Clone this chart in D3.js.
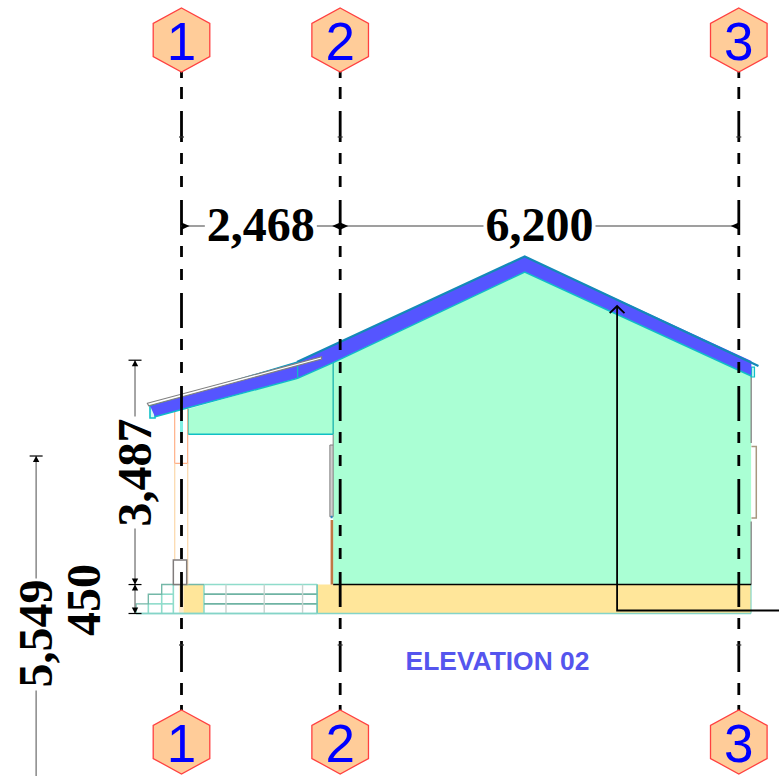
<!DOCTYPE html>
<html>
<head>
<meta charset="utf-8">
<script src="https://cdn.jsdelivr.net/npm/d3@7/dist/d3.min.js"></script>
<style>html,body{margin:0;padding:0;background:#fff}svg{display:block}</style>
</head>
<body>
<svg id="c" width="779" height="776"></svg>
<script>
// All drawing values are in millimetres on the elevation.
const gridLabels = ["1", "2", "3"];
const gridStations = [0, 2468, 8668];
const spanValues = [2468, 6200];
const levelValues = [0, 450, 3937, 5549];
const title = "ELEVATION 02";

const roofBand = [[-490,3229],[1795,3908],[5338,5549],[8865,3925],[8861,3691],[5338,5307],[2359,3900],[1806,3655],[-412,3058]];
const roofTopEdge = [[1795,3908],[5338,5549],[8974,3846]];
const roofUnderEdge = [[-412,3058],[1806,3655],[2359,3900],[5338,5307],[8861,3691]];
const leanBottomEdge = [[106,2785],[2359,2785]];
const mainWall = [[5338,5307],[8861,3691],[8861,450],[2359,450],[2359,3900]];
const leanWall = [[106,3179],[1806,3655],[2359,3900],[2359,2785],[106,2785]];
const flashing = [[-531,3267],[2179,3991],[2179,3955],[-510,3229]];
const fasciaL = [[-490,3229],[-412,3229],[-412,3039],[-490,3039]];
const fasciaR = [[8865,3831],[8912,3831],[8912,3676],[8865,3676]];
const columnHead = [[-106,3195],[96,3195],[96,2334],[-106,2334]];
const columnBase = [[-127,831],[81,831],[81,450],[-127,450]];
const columnCut = [[-23,3007],[23,3007],[23,2820],[-23,2820]];
const plinthA = [[28,0],[350,0],[350,450],[28,450]];
const plinthB = [[2110,0],[8858,0],[8858,450],[2110,450]];
const plinthStrip = [[-40,0],[28,0],[28,450],[-40,450]];
const doorGrey = [[2308,2619],[2359,2619],[2359,1504],[2308,1504]];
const doorBrown = [[2339,1453],[2339,450]];
const wallRightA = [[8861,3691],[8861,2650]];
const wallRightB = [[8861,1430],[8861,450]];
const windowRight = [[8865,2597],[8940,2597],[8940,1484],[8865,1484]];
const stairOutline = [[-707,0],[-707,150],[-516,150],[-516,300],[-308,300],[-308,450],[350,450]];
const stairLight = [[[-707,0],[2110,0]],[[-516,0],[-516,150]],[[-308,0],[-308,300]],[[-127,0],[-127,450]],[[-516,150],[-127,150]],[[-308,300],[-127,300]],[[2110,0],[2110,450]],[[350,0],[350,450]],[[350,450],[2110,450]]];
const stairDark = [[[350,150],[2110,150]],[[350,300],[2110,300]]];
const stairPosts = [692, 1287, 1883];
const groundLine = [[2359,450],[8861,450]];
const leader = [[6775,4778],[6775,47],[9300,47]];

const px = d3.scaleLinear().domain([0, 8668]).range([181.5, 738.8]);
const py = d3.scaleLinear().domain([0, 5549]).range([613.5, 256.5]);
const svg = d3.select("#c");
const path = d3.line().x(d => px(d[0])).y(d => py(d[1]));
const closed = d => path(d) + "Z";

function poly(d, fill, stroke, w) {
  svg.append("path").attr("d", closed(d)).attr("fill", fill)
    .attr("stroke", stroke || "none").attr("stroke-width", w || 0);
}
function line(d, stroke, w) {
  svg.append("path").attr("d", path(d)).attr("fill", "none")
    .attr("stroke", stroke).attr("stroke-width", w);
}

// walls and plinth
poly(mainWall, "#aaffd4");
poly(leanWall, "#aaffd4");
poly(plinthA, "#ffe69a");
poly(plinthB, "#ffe69a");
poly(plinthStrip, "#fdeccd");

// stairs
stairLight.forEach(s => line(s, "#8fdccb", 1.6));
line(stairOutline, "#74b8a8", 1.4);
stairDark.forEach(s => line(s, "#6fb3a3", 1.8));
stairPosts.forEach(x => line([[x,0],[x,450]], "#c8d4d0", 1.4));
line([[2110,0],[2110,450]], "#74c4b0", 1.4);
line([[-707,0],[8858,0]], "#84d4c8", 1.6);
line([[8858,0],[8858,450]], "#84d4c8", 1.2);

// column
poly(columnHead, "none", "#ffb088", 1.2);
[-106, 96].forEach(x => line([[x,2334],[x,450]], "#fbdcb4", 1.4));
poly(columnCut, "#7fefe4");
poly(columnBase, "#fff", "#807c7c", 1.5);

// lean-to and door side
line(leanBottomEdge, "#10c0c4", 1.6);
line([[2359,3900],[2359,2785]], "#22b8b0", 1.4);
line([[106,3179],[106,2785]], "#22b8b0", 0.8);
poly(doorGrey, "#cfcfcf", "#808080", 1);
line([[2359,2785],[2359,2619]], "#808080", 1);
line(doorBrown, "#c07844", 2.6);
line([[2320,1500],[2350,1500]], "#2a8ac0", 2.5);

// right wall
line(wallRightA, "#8a8a8a", 1.4);
line(wallRightB, "#8a8a8a", 1.4);
svg.append("path").attr("d", path([windowRight[0], windowRight[1], windowRight[2], windowRight[3]]))
  .attr("fill", "#fff").attr("stroke", "#a89880").attr("stroke-width", 1.5);

// roof
poly(fasciaL, "#d4faf4", "#10c0c8", 1.6);
poly(fasciaR, "#c4f8f0", "#10c0c8", 1.2);
poly(roofBand, "#5555ff");
line(roofUnderEdge, "#10bcc8", 1.5);
line(roofBand.slice(0, 2), "#10a0c0", 1.2);
line(roofTopEdge, "#1489b8", 2.2);
line([[1806,3660],[1806,3908]], "#10bcc8", 1.3);
poly(flashing, "#fff", "#808080", 1.1);
line(groundLine, "#000", 1.4);

// leader arrow
line(leader, "#000", 1.8);
line([[6775 - 115, 4778 - 110],[6775,4778],[6775 + 115, 4778 - 110]], "#000", 1.8);

// grid lines (two leader stubs and the main run, each with its own dashing)
gridStations.forEach(g => {
  const x = px(g);
  const seg = (y0, y1, dash, off) => svg.append("line")
    .attr("x1", x).attr("x2", x).attr("y1", y0).attr("y2", y1)
    .attr("stroke", "#000").attr("stroke-width", 2.8)
    .attr("stroke-dasharray", dash).attr("stroke-dashoffset", off || 0);
  seg(72, 137, "6 9 12 12 26");
  seg(137, 645, "35 11 11 12 11 13", 30);
  seg(645, 718, "27 11 12 10 13");
  [137, 645].forEach(y => svg.append("line").attr("x1", x - 2.5).attr("x2", x + 2.5)
    .attr("y1", y).attr("y2", y).attr("stroke", "#333").attr("stroke-width", 1.2));
});

// dimensions
const DIM = "#808080", serif = "'Liberation Serif', serif";
function label(t, x, y, rot) {
  svg.append("text").attr("transform", `translate(${x},${y}) rotate(${rot})`)
    .attr("text-anchor", "middle").attr("font-family", serif).attr("font-weight", 700)
    .attr("font-size", 48).attr("fill", "#000").text(t);
}
const dimY = py(6022);
spanValues.forEach((v, i) => {
  const a = px(gridStations[i]), b = px(gridStations[i + 1]), m = (a + b) / 2, gap = 56;
  svg.append("path").attr("d", `M${a},${dimY}H${m - gap}M${m + gap},${dimY}H${b}`)
    .attr("stroke", DIM).attr("stroke-width", 1.4).attr("fill", "none");
  label(d3.format(",")(v), m, dimY + 15, 0);
});
gridStations.forEach((g, i) => {
  const x = px(g);
  const dirs = i === 0 ? [1] : i === 2 ? [-1] : [-1, 1];
  dirs.forEach(s => svg.append("path")
    .attr("d", `M${x},${dimY - 3.6}L${x + s * 8},${dimY}L${x},${dimY + 3.6}Z`).attr("fill", "#000"));
});

function vDim(xMm, lo, hi, gapHalf) {
  const x = px(xMm), a = py(hi), b = py(lo), m = (a + b) / 2;
  svg.append("path").attr("d", gapHalf
      ? `M${x},${a}V${m - gapHalf}M${x},${m + gapHalf}V${b}` : `M${x},${a}V${b}`)
    .attr("stroke", DIM).attr("stroke-width", 1.4).attr("fill", "none");
  return m;
}
function vTick(xMm, lvl, up, down) {
  const x = px(xMm), y = py(lvl);
  svg.append("line").attr("x1", x - 6.5).attr("x2", x + 6.5).attr("y1", y).attr("y2", y)
    .attr("stroke", "#000").attr("stroke-width", 1.2);
  if (up) svg.append("path").attr("d", `M${x - 3.2},${y - 6}L${x},${y}L${x + 3.2},${y - 6}Z`).attr("fill", "#000");
  if (down) svg.append("path").attr("d", `M${x - 3.2},${y + 6}L${x},${y}L${x + 3.2},${y + 6}Z`).attr("fill", "#000");
}
const xInner = -723, xOuter = -2261;
vDim(xInner, levelValues[0], levelValues[1]);
const m3487 = vDim(xInner, levelValues[1], levelValues[2], 56);
vTick(xInner, levelValues[0], true, false);
vTick(xInner, levelValues[1], true, true);
vTick(xInner, levelValues[2], false, true);
label("3,487", 151, m3487, -90);
label("450", 99.5, 600, -90);
const outerTop = 2448;
const m5549 = vDim(xOuter, outerTop - 5549, outerTop, 56);
vTick(xOuter, outerTop, false, true);
label("5,549", 52, m5549 - 1, -90);

// title
svg.append("text").attr("x", 497.5).attr("y", 669.5).attr("text-anchor", "middle")
  .attr("font-family", "'Liberation Sans', sans-serif").attr("font-weight", 700)
  .attr("font-size", 26.4).attr("fill", "#5555ee").text(title);

// grid bubbles
function bubble(t, x, cy) {
  const r = 32, w = 28.3, s = 16.5;
  svg.append("path").attr("d", `M${x},${cy - r}L${x + w},${cy - s}V${cy + s}L${x},${cy + r}L${x - w},${cy + s}V${cy - s}Z`)
    .attr("fill", "#ffcc99").attr("stroke", "#ff4040").attr("stroke-width", 1.3);
  svg.append("text").attr("x", x).attr("y", cy + 19.5).attr("text-anchor", "middle")
    .attr("font-family", "'Liberation Sans', sans-serif").attr("font-size", 53)
    .attr("fill", "#0000ff").text(t);
}
gridLabels.forEach((t, i) => {
  bubble(t, px(gridStations[i]), 40);
  bubble(t, px(gridStations[i]), 742);
});
</script>
</body>
</html>
